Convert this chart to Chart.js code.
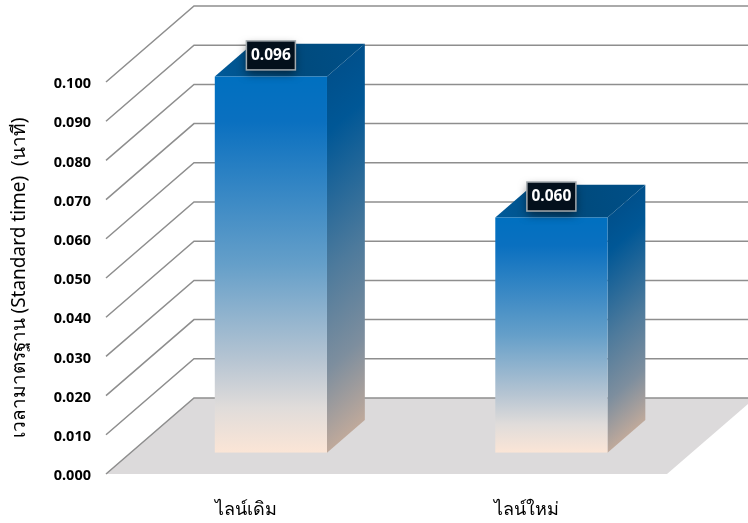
<!DOCTYPE html>
<html>
<head>
<meta charset="utf-8">
<style>
  html, body { margin: 0; padding: 0; background: #fff; }
  canvas { display: block; }
</style>
<script src="https://cdn.jsdelivr.net/npm/chart.js@4"></script>
</head>
<body>
<canvas id="myChart" width="748" height="523"></canvas>
<script>
let categories = ['ไลน์เดิม', 'ไลน์ใหม่'];
let standardTime = [0.096, 0.060];
let yTicks = [0, 0.01, 0.02, 0.03, 0.04, 0.05, 0.06, 0.07, 0.08, 0.09, 0.1];
let yTitle = 'เวลามาตรฐาน (Standard time)  (นาที)';

const FONT = '"Noto Sans", "Open Sans", sans-serif';
// wall depth in pixels, the bars sit part way back on the floor
const DEPTH_X = 88, DEPTH_Y = 76;
const BAR_FRONT = 0.28, BAR_DEPTH = 0.43;

function frontGradient(c) {
    let y = c.chart.scales.y;
    if (c.raw === undefined || !y) return '#0070c0';
    let from = y.getPixelForValue(c.raw), to = y.getPixelForValue(0);
    // scales have no size yet on the first pass
    if (!isFinite(from) || !isFinite(to)) return '#0070c0';
    let g = c.chart.ctx.createLinearGradient(0, from, 0, to);
    g.addColorStop(0, '#0070c0');
    g.addColorStop(0.12, '#0a70c0');
    g.addColorStop(0.5, '#659fc9');
    g.addColorStop(0.75, '#b5c4d2');
    g.addColorStop(0.88, '#e0dcda');
    g.addColorStop(1, '#fbe5d6');
    return g;
}

// floor, back wall and the slanted grid lines
const walls = {
    id: 'walls',
    beforeDatasetsDraw(chart) {
        let ctx = chart.ctx, y = chart.scales.y, area = chart.chartArea;
        let zero = y.getPixelForValue(0);
        ctx.save();
        ctx.fillStyle = '#dcdadb';
        ctx.beginPath();
        ctx.moveTo(area.left, zero);
        ctx.lineTo(area.left + DEPTH_X, zero - DEPTH_Y);
        ctx.lineTo(area.right + DEPTH_X, zero - DEPTH_Y);
        ctx.lineTo(area.right, zero);
        ctx.closePath();
        ctx.fill();
        ctx.strokeStyle = '#8e8e8e';
        ctx.lineWidth = 1.5;
        y.ticks.forEach(t => {
            let py = y.getPixelForValue(t.value);
            ctx.beginPath();
            ctx.moveTo(area.left, py);
            ctx.lineTo(area.left + DEPTH_X, py - DEPTH_Y);
            ctx.lineTo(area.right + DEPTH_X, py - DEPTH_Y);
            ctx.stroke();
        });
        ctx.restore();
    },
    // native bars are the front faces, pushed back onto the floor
    beforeDatasetDraw(chart) {
        let meta = chart.getDatasetMeta(0), ctx = chart.ctx;
        let ox = DEPTH_X * BAR_FRONT, oy = DEPTH_Y * BAR_FRONT;
        let dx = DEPTH_X * BAR_DEPTH, dy = DEPTH_Y * BAR_DEPTH;
        ctx.save();
        ctx.translate(ox, -oy);
        meta.data.forEach(bar => {
            let r = bar.x + bar.width / 2, l = bar.x - bar.width / 2;
            // colour bands on the side run parallel to its slanted top edge
            let h = bar.base - bar.y, k = h * dx / (dx * dx + dy * dy);
            let side = ctx.createLinearGradient(r, bar.y, r + k * dy, bar.y + k * dx);
            side.addColorStop(0, '#00508c');
            side.addColorStop(0.15, '#005796');
            side.addColorStop(0.52, '#4d7a9c');
            side.addColorStop(0.78, '#7d8e9e');
            side.addColorStop(1, '#bfa99b');
            ctx.fillStyle = side;
            ctx.beginPath();
            ctx.moveTo(r, bar.y);
            ctx.lineTo(r + dx, bar.y - dy);
            ctx.lineTo(r + dx, bar.base - dy);
            ctx.lineTo(r, bar.base);
            ctx.closePath();
            ctx.fill();

            let top = ctx.createLinearGradient(l, bar.y, r + dx, bar.y - dy);
            top.addColorStop(0, '#005a9a');
            top.addColorStop(0.5, '#004a7c');
            top.addColorStop(1, '#004f88');
            ctx.fillStyle = top;
            ctx.beginPath();
            ctx.moveTo(l, bar.y);
            ctx.lineTo(l + dx, bar.y - dy);
            ctx.lineTo(r + dx, bar.y - dy);
            ctx.lineTo(r, bar.y);
            ctx.closePath();
            ctx.fill();
        });
    },
    afterDatasetDraw(chart) {
        chart.ctx.restore();
    },
    // value boxes on the top faces
    afterDatasetsDraw(chart) {
        let ctx = chart.ctx, meta = chart.getDatasetMeta(0);
        let ox = DEPTH_X * BAR_FRONT, oy = DEPTH_Y * BAR_FRONT;
        let w = 49, h = 29;
        meta.data.forEach((bar, i) => {
            let cx = bar.x + ox, cy = bar.y - oy - 21;
            ctx.save();
            ctx.shadowColor = 'rgba(0,0,0,0.55)';
            ctx.shadowBlur = 9;
            ctx.shadowOffsetY = 4;
            ctx.fillStyle = '#03101c';
            ctx.fillRect(cx - w / 2, cy - h / 2, w, h);
            ctx.restore();
            ctx.strokeStyle = '#a3aaae';
            ctx.lineWidth = 1.5;
            ctx.strokeRect(cx - w / 2, cy - h / 2, w, h);
            ctx.fillStyle = '#fff';
            ctx.font = 'bold 15.5px ' + FONT;
            ctx.textAlign = 'center';
            ctx.textBaseline = 'middle';
            ctx.fillText(standardTime[i].toFixed(3), cx, cy);
        });
    }
};

let ctx = document.getElementById('myChart').getContext('2d');
let chart = new Chart(ctx, {
    type: 'bar',
    data: {
        labels: categories,
        datasets: [{
            data: standardTime,
            categoryPercentage: 1,
            barPercentage: 0.4,
            backgroundColor: frontGradient
        }]
    },
    plugins: [walls],
    options: {
        responsive: false,
        animation: false,
        layout: { padding: { top: 82, right: 81, left: 0, bottom: 0 } },
        plugins: { legend: { display: false }, tooltip: { enabled: false } },
        scales: {
            x: {
                grid: { display: false },
                border: { display: false },
                afterFit: s => { s.height = 49; },
                ticks: {
                    color: '#000',
                    padding: 17,
                    font: { family: FONT, size: 18 },
                    maxRotation: 0
                }
            },
            y: {
                min: 0,
                max: 0.1,
                afterFit: s => { s.width = 106; },
                afterBuildTicks: s => { s.ticks = yTicks.map(v => ({ value: v })); },
                grid: { display: false },
                border: { display: false },
                title: {
                    display: true,
                    text: yTitle,
                    color: '#000',
                    font: { family: FONT, size: 19 },
                    padding: { top: 8, bottom: 0 }
                },
                ticks: {
                    color: '#000',
                    padding: 7,
                    labelOffset: 2,
                    font: { family: FONT, size: 14.5, weight: 'bold' },
                    callback: v => v.toFixed(3)
                }
            }
        }
    }
});
</script>
</body>
</html>
